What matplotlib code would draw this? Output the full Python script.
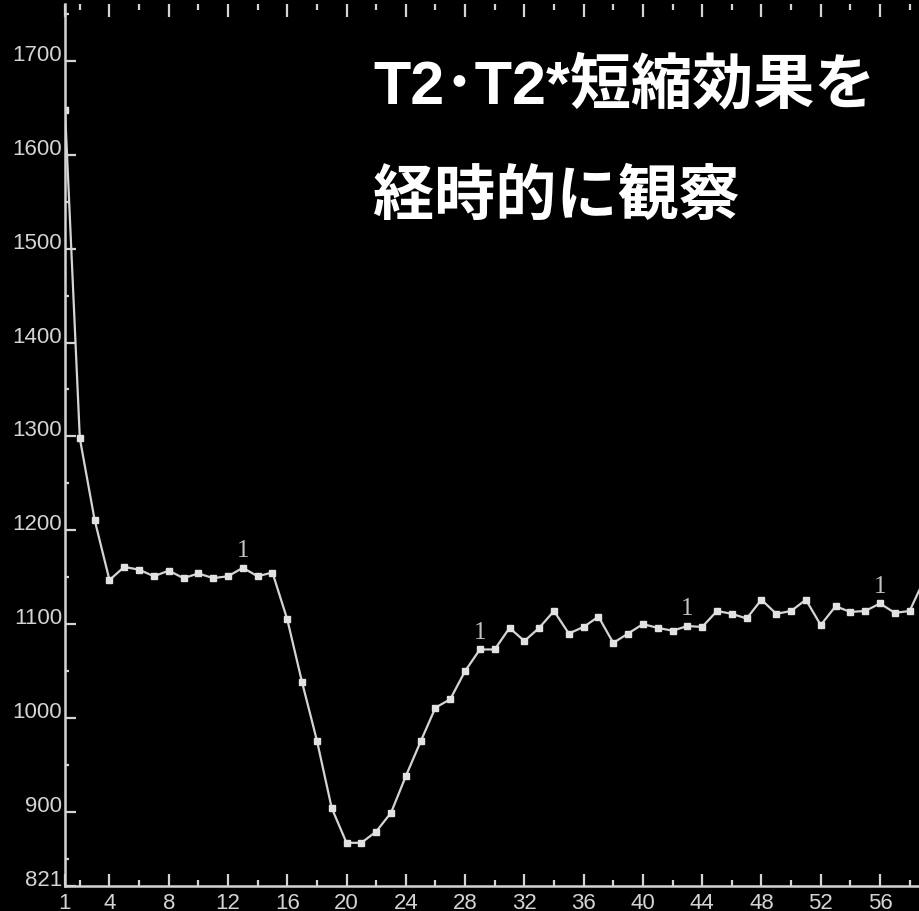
#!/usr/bin/env python3

import matplotlib.pyplot as plt
from matplotlib.ticker import MultipleLocator

# signal intensity per acquisition
frames = list(range(1, 60))
signal = [1648, 1298, 1211, 1147, 1161, 1158, 1151, 1157, 1149, 1154,
          1149, 1151, 1160, 1151, 1155, 1105, 1038, 976, 904, 867,
          867, 879, 899, 938, 975, 1011, 1020, 1050, 1073, 1073,
          1096, 1082, 1096, 1114, 1090, 1097, 1108, 1080, 1090, 1100,
          1096, 1093, 1098, 1097, 1114, 1111, 1106, 1126, 1111, 1114,
          1126, 1099, 1119, 1113, 1114, 1122, 1112, 1114, 1148]
marked_frames = [13, 29, 43, 56]

xtick_pos = [1, 4, 8, 12, 16, 20, 24, 28, 32, 36, 40, 44, 48, 52, 56]
ytick_pos = [821, 900, 1000, 1100, 1200, 1300, 1400, 1500, 1600, 1700]

title1 = "T2･T2*短縮効果を"
title2 = "経時的に観察"

fg = "#d4d4d4"

fig = plt.figure(figsize=(9.2, 9.11), dpi=100, facecolor="black")
ax = fig.add_axes([65 / 920, 25 / 911, 1 - 65 / 920, 1 - 29 / 911])
ax.set_facecolor("black")

ax.plot(frames, signal, color=fg, lw=1.6, marker="s", ms=4.2,
        mfc="#e2e2e2", mec="#e2e2e2", clip_on=True)

for f in marked_frames:
    ax.annotate("1", (f, signal[f - 1]), xytext=(0, 4), textcoords="offset points",
                ha="center", va="bottom", color="#c4c4c4", fontsize=18,
                family="Liberation Serif")

ax.set_xlim(1, 58.7)
ax.set_ylim(821, 1760.7)

ax.set_xticks(xtick_pos)
ax.set_xticklabels([str(v) for v in xtick_pos])
ax.xaxis.set_minor_locator(MultipleLocator(2))
ax.set_yticks(ytick_pos)
ax.set_yticklabels([str(v) for v in ytick_pos])
ax.yaxis.set_minor_locator(MultipleLocator(50))

for spine in ["top", "right"]:
    ax.spines[spine].set_visible(False)
for spine in ["left", "bottom"]:
    ax.spines[spine].set_color(fg)
    ax.spines[spine].set_linewidth(1.8)

ax.tick_params(axis="x", which="major", direction="in", length=9, width=1.6,
               color=fg, labelcolor=fg, labelsize=16, pad=5, top=True)
ax.tick_params(axis="x", which="minor", direction="in", length=4, width=1.6,
               color=fg, top=True)
ax.tick_params(axis="y", which="major", direction="in", length=8, width=1.6,
               color=fg, labelcolor=fg, labelsize=16, pad=2)
ax.tick_params(axis="y", which="minor", direction="in", length=3, width=1.6,
               color=fg)
for lab in ax.get_xticklabels() + ax.get_yticklabels():
    lab.set_family("Liberation Sans")
for lab in ax.get_yticklabels():
    lab.set_verticalalignment("baseline")

title_font = ["Liberation Sans", "Noto Sans CJK JP", "DejaVu Sans"]
fig.text(373 / 920, 1 - 88 / 911, title1, color="white", fontsize=44,
         fontweight="bold", ha="left", va="center", family=title_font)
fig.text(373 / 920, 1 - 199 / 911, title2, color="white", fontsize=44,
         fontweight="bold", ha="left", va="center", family=title_font)

fig.savefig("out.png", dpi=100, facecolor="black")
